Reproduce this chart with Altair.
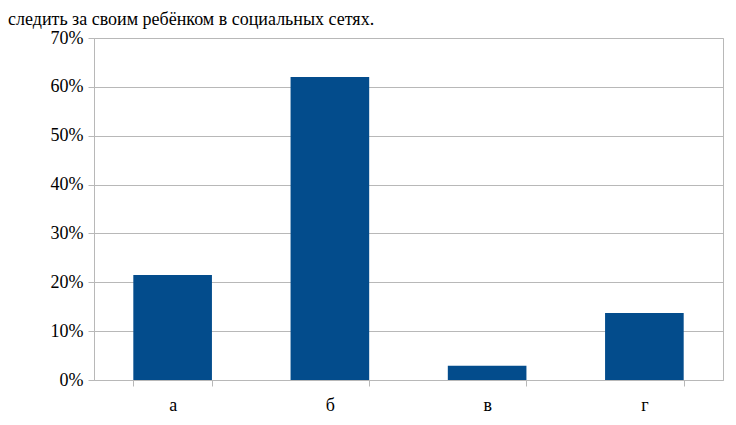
import altair as alt
import pandas as pd

categories = ["а", "б", "в", "г"]
values = [0.215, 0.62, 0.029, 0.137]
title_text = "следить за своим ребёнком в социальных сетях."

df = pd.DataFrame({"cat": categories, "val": values})

grey = "#b8b8b8"
font = "Liberation Serif"

chart = alt.Chart(df).mark_bar(color="#034c8c").encode(
    x=alt.X("cat:N", sort=categories, title=None,
            scale=alt.Scale(paddingInner=0.5, paddingOuter=0.25),
            axis=alt.Axis(labelAngle=0, tickBand="extent", domainColor=grey,
                          tickColor=grey, tickSize=6,
                          labelFontSize=18, labelColor="#000000", labelPadding=10,
                          grid=False)),
    y=alt.Y("val:Q", title=None,
            scale=alt.Scale(domain=[0, 0.7], nice=False),
            axis=alt.Axis(format=".0%", values=[0, 0.1, 0.2, 0.3, 0.4, 0.5, 0.6, 0.7],
                          domainColor=grey, tickColor=grey, tickSize=6,
                          gridColor=grey, labelFontSize=18,
                          labelColor="#000000", labelPadding=5)),
).properties(
    width=629,
    height=342,
    title=alt.TitleParams(title_text, anchor="start", frame="group", dx=-86, dy=8,
                          font=font, fontSize=18, fontWeight=400),
    autosize=alt.AutoSizeParams(type="none"),
    padding={"left": 86, "top": 30, "right": 5, "bottom": 37},
).configure(
    font=font
).configure_axis(
    labelFont=font
).configure_title(
    font=font, fontSize=18, fontWeight=400, color="#000000", offset=8,
    baseline="bottom"
).configure_view(stroke=grey, strokeWidth=1)

chart.save("out.html", embed_options={"renderer": "svg", "actions": False})
